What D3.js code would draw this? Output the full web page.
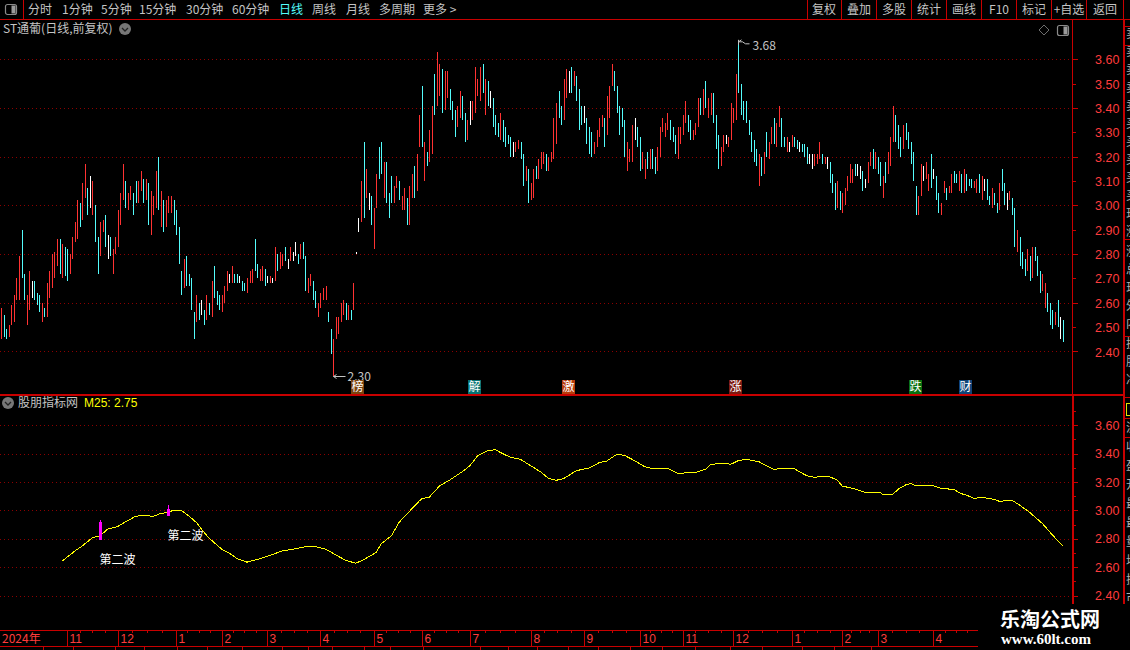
<!DOCTYPE html>
<html>
<head>
<meta charset="utf-8">
<script src="https://cdn.jsdelivr.net/npm/d3@7"></script>
<style>
  html, body { margin: 0; padding: 0; background: #000; overflow: hidden; }
  svg { display: block; font-family: "Noto Sans CJK SC", sans-serif; }
</style>
</head>
<body>
<svg id="chart" width="1130" height="650"></svg>
<script>
// daily bars. kinds: r = up, c = down, w = flat
const highs = [
  2.58,2.55,2.49,2.51,2.59,2.63,2.70,2.79,2.90,2.72,2.63,2.73,2.69,2.69,2.64,2.63,2.60,2.58,2.68,2.73,
  2.80,2.81,2.86,2.86,2.84,2.83,2.82,2.80,2.87,2.93,3.02,3.01,3.09,3.17,3.07,3.12,3.10,3.00,2.87,2.93,
  2.94,2.96,2.88,2.87,2.82,2.87,2.98,3.05,3.17,3.10,3.05,3.08,3.05,3.10,3.10,3.14,3.11,3.11,3.09,3.06,
  3.04,3.14,3.20,3.06,3.02,3.02,3.04,3.04,3.02,2.98,2.91,2.73,2.78,2.79,2.72,2.70,2.56,2.63,2.60,2.61,
  2.57,2.63,2.60,2.69,2.75,2.65,2.63,2.63,2.67,2.73,2.72,2.75,2.72,2.72,2.71,2.69,2.68,2.70,2.73,2.74,
  2.86,2.76,2.74,2.75,2.74,2.71,2.71,2.70,2.83,2.80,2.81,2.80,2.83,2.78,2.83,2.81,2.85,2.80,2.84,2.85,
  2.79,2.70,2.72,2.69,2.65,2.60,2.64,2.66,2.67,2.56,2.49,2.45,2.54,2.54,2.60,2.61,2.60,2.59,2.57,2.68,
  2.81,2.95,3.10,3.26,3.15,3.05,3.04,2.99,3.13,3.24,3.26,3.18,3.18,3.05,3.12,3.08,3.12,3.10,3.04,3.07,
  3.03,3.08,3.13,3.16,3.21,3.37,3.49,3.26,3.22,3.31,3.41,3.54,3.63,3.58,3.56,3.55,3.55,3.48,3.43,3.39,
  3.41,3.47,3.45,3.38,3.35,3.43,3.43,3.57,3.52,3.57,3.58,3.52,3.51,3.47,3.44,3.37,3.34,3.38,3.35,3.32,
  3.29,3.28,3.26,3.26,3.27,3.26,3.21,3.16,3.15,3.09,3.15,3.16,3.19,3.22,3.22,3.21,3.20,3.22,3.36,3.42,
  3.47,3.41,3.52,3.56,3.55,3.57,3.55,3.53,3.48,3.41,3.41,3.36,3.32,3.30,3.26,3.31,3.36,3.37,3.36,3.45,
  3.49,3.58,3.55,3.49,3.41,3.40,3.35,3.26,3.23,3.33,3.36,3.32,3.28,3.22,3.19,3.22,3.23,3.23,3.20,3.24,
  3.32,3.36,3.34,3.38,3.35,3.32,3.29,3.32,3.32,3.37,3.43,3.37,3.35,3.31,3.34,3.44,3.44,3.48,3.51,3.44,
  3.46,3.46,3.37,3.29,3.24,3.29,3.29,3.28,3.42,3.40,3.54,3.68,3.50,3.43,3.43,3.35,3.30,3.27,3.23,3.21,
  3.20,3.22,3.30,3.26,3.32,3.36,3.34,3.41,3.36,3.28,3.28,3.26,3.29,3.28,3.27,3.26,3.25,3.25,3.24,3.21,
  3.21,3.21,3.21,3.26,3.21,3.20,3.20,3.18,3.13,3.09,3.10,3.06,3.05,3.07,3.12,3.17,3.15,3.17,3.17,3.16,
  3.14,3.11,3.18,3.22,3.23,3.22,3.20,3.18,3.12,3.18,3.22,3.28,3.41,3.37,3.33,3.28,3.33,3.34,3.30,3.26,
  3.22,3.08,3.04,3.17,3.16,3.18,3.13,3.21,3.15,3.12,3.05,3.01,3.10,3.07,3.08,3.13,3.14,3.13,3.14,3.13,
  3.15,3.13,3.11,3.11,3.10,3.11,3.13,3.12,3.11,3.11,3.04,3.07,3.05,3.01,3.09,3.15,3.09,3.05,3.06,3.03,
  2.99,2.90,2.87,2.81,2.78,2.82,2.79,2.83,2.83,2.79,2.73,2.72,2.68,2.64,2.60,2.57,2.56,2.61,2.54,2.53
]
const lows = [
  2.45,2.46,2.45,2.46,2.51,2.52,2.61,2.61,2.70,2.61,2.51,2.57,2.62,2.61,2.59,2.56,2.52,2.54,2.54,2.62,
  2.66,2.70,2.75,2.72,2.70,2.71,2.69,2.72,2.78,2.85,2.86,2.91,2.94,3.03,2.96,2.99,2.96,2.85,2.72,2.79,
  2.89,2.83,2.78,2.79,2.72,2.80,2.83,2.92,3.02,2.99,2.98,3.02,2.96,3.01,3.01,3.06,3.01,3.02,2.92,2.88,
  2.96,2.99,2.98,2.91,2.89,2.91,2.97,2.97,2.92,2.88,2.76,2.63,2.66,2.67,2.67,2.57,2.45,2.52,2.53,2.55,
  2.51,2.53,2.55,2.54,2.62,2.59,2.57,2.56,2.60,2.65,2.68,2.68,2.68,2.68,2.68,2.65,2.65,2.64,2.68,2.68,
  2.73,2.70,2.69,2.69,2.67,2.68,2.68,2.68,2.69,2.73,2.74,2.75,2.77,2.74,2.77,2.77,2.79,2.76,2.78,2.78,
  2.65,2.64,2.67,2.61,2.58,2.54,2.58,2.61,2.61,2.52,2.39,2.30,2.45,2.47,2.52,2.55,2.53,2.53,2.53,2.57,
  2.81,2.89,2.93,2.95,3.03,2.98,2.92,2.82,2.99,3.11,3.13,3.03,3.01,2.95,3.01,3.01,3.07,3.02,2.98,2.98,
  2.92,2.92,3.03,3.03,3.06,3.24,3.24,3.10,3.16,3.18,3.21,3.37,3.41,3.45,3.38,3.39,3.44,3.39,3.35,3.28,
  3.32,3.36,3.35,3.26,3.27,3.33,3.35,3.38,3.45,3.43,3.46,3.37,3.41,3.40,3.32,3.29,3.28,3.27,3.26,3.24,
  3.25,3.20,3.20,3.22,3.23,3.19,3.08,3.10,3.01,3.02,3.03,3.11,3.11,3.15,3.17,3.14,3.14,3.18,3.19,3.25,
  3.36,3.33,3.35,3.44,3.46,3.46,3.49,3.43,3.31,3.33,3.34,3.25,3.21,3.20,3.21,3.24,3.28,3.32,3.24,3.29,
  3.36,3.49,3.47,3.38,3.29,3.32,3.20,3.14,3.18,3.18,3.27,3.24,3.14,3.15,3.11,3.15,3.15,3.15,3.13,3.14,
  3.20,3.30,3.28,3.31,3.27,3.26,3.21,3.19,3.25,3.29,3.34,3.30,3.27,3.27,3.29,3.32,3.37,3.37,3.40,3.36,
  3.37,3.34,3.23,3.15,3.16,3.22,3.25,3.24,3.27,3.34,3.35,3.46,3.37,3.35,3.34,3.29,3.22,3.18,3.16,3.08,
  3.12,3.13,3.20,3.19,3.25,3.25,3.24,3.32,3.24,3.24,3.22,3.22,3.24,3.24,3.23,3.22,3.22,3.20,3.17,3.17,
  3.15,3.16,3.17,3.19,3.17,3.17,3.15,3.09,3.05,2.98,2.99,2.98,2.97,3.00,3.06,3.09,3.09,3.12,3.12,3.11,
  3.06,3.07,3.09,3.16,3.15,3.15,3.13,3.08,3.03,3.09,3.13,3.16,3.26,3.26,3.23,3.20,3.23,3.27,3.23,3.17,
  3.10,2.96,2.96,3.04,3.10,3.11,3.06,3.07,3.11,3.02,2.97,2.96,3.05,3.02,3.05,3.05,3.09,3.09,3.06,3.05,
  3.05,3.06,3.08,3.07,3.07,3.05,3.05,3.02,3.06,3.02,3.00,2.99,3.00,2.97,2.98,3.06,3.00,2.98,3.02,2.96,
  2.83,2.81,2.75,2.74,2.71,2.73,2.69,2.70,2.77,2.71,2.64,2.65,2.58,2.56,2.51,2.49,2.51,2.50,2.45,2.44
]
const kinds = [
  'rccrrrrrccrrwcccrcrr',
  'rrrcrccrrrrcrrcwrccr',
  'rcwcrrrrrcrrccrrcrcr',
  'rrcrcrrrccccrccccrcw',
  'crcrcccrrrwrccwccrrr',
  'ccrrcwrwrcrrcwrwwcrc',
  'crrccrrrrccrrrrrcrcr',
  'wwrcrwcrrccrcccrrcrr',
  'crrcrrcrcrrcrrcrrccc',
  'rrccrwrrrrcrcwcccrcc',
  'ccwrrccrcrrcrrrcrrrr',
  'ccrrwcrcccwcccrrrrcr',
  'rrcccccrrrwccrrcrccr',
  'rrrrcccrrrrccrrrcrcr',
  'rcccrrwrrrrccccccccr',
  'crcrrcrrccrwrccwcccw',
  'wrrrcrwcccrcrrrrrcww',
  'cwrrcrccrcrrrcccrccc',
  'ccrrwrrcwccrrcrrccrc',
  'rcccrrcrwccrccrccwrc',
  'crcccrcrcccrrcccrcwc'
].join('').split('')

// M25 line, sampled along the curve: bar index and value
const m25Index = [24,29,32,36,39,42,46,50,53,56,60,63,65,68,71,74,77,79,82,87,90,93,97,102,107,111,117,121,124,128,
  132,136,140,143,148,150,154,157,161,165,166,169,173,177,182,185,188,192,195,197,201,205,209,213,216,219,222,227,232,236,
  239,243,246,250,254,257,263,267,274,278,280,286,288,291,294,299,302,305,307,313,315,318,321,324,327,330,332,337,341,347,
  348,352,354,357,359,361,368,371,376,379,381,384,387,392,394,399,402,406,411,415,419]
const m25Values = [2.642,2.713,2.75,2.807,2.821,2.868,2.887,2.929,2.958,2.965,2.958,2.979,2.984,3.0,3.0,2.962,2.915,2.868,2.805,2.727,2.699,2.661,2.635,2.659,2.689,2.715,2.732,2.748,2.744,2.727,
  2.687,2.647,2.628,2.652,2.704,2.765,2.821,2.915,2.991,3.066,3.082,3.094,3.172,3.214,3.273,3.315,3.384,3.421,3.428,3.409,3.374,3.36,3.315,3.271,3.226,3.212,3.224,3.28,3.299,3.336,
  3.348,3.395,3.388,3.351,3.308,3.296,3.296,3.261,3.268,3.289,3.325,3.332,3.325,3.351,3.36,3.344,3.315,3.289,3.294,3.296,3.273,3.245,3.233,3.24,3.238,3.214,3.172,3.151,3.127,3.127,
  3.113,3.113,3.148,3.179,3.19,3.174,3.174,3.155,3.148,3.118,3.108,3.085,3.092,3.078,3.064,3.071,3.038,2.986,2.908,2.826,2.751]

// signal sticks on the indicator panel
const signalIndex = [39, 66]
const signalHigh = [2.934, 3.04]
const signalTop = [2.92, 3.012]
const signalBottom = [2.793, 2.962]
const signalText = ['第二波', '第二波']
const signalTextValue = [2.653, 2.822]

// event tags
const tagIndex = [141, 187, 224, 290, 361, 381]
const tagText = ['榜', '解', '激', '涨', '跌', '财']
const tagColors = ['#7c4410', '#067373', '#b83c0c', '#7c1a12', '#0a7010', '#0f4478']

// axis ticks
const priceLabels = [3.6,3.5,3.4,3.3,3.2,3.1,3.0,2.9,2.8,2.7,2.6,2.5,2.4]
const priceGrid = [3.6,3.4,3.2,3.0,2.8,2.6,2.4]
const indLabels = [3.6,3.4,3.2,3.0,2.8,2.6,2.4]
const indMinor = [3.7,3.5,3.3,3.1,2.9,2.7,2.5]
const monthIndex = [26,46,69,87,105,126,147,166,185,209,230,252,269,289,312,332,346,368]
const monthLabels = ['11','12','1','2','3','4','5','6','7','8','9','10','11','12','1','2','3','4']

// toolbars
const leftTabs = ['分时','1分钟','5分钟','15分钟','30分钟','60分钟','日线','周线','月线','多周期','更多 >']
const leftTabX = [28,62,101,139,186,232,279,312,346,379,423]
const rightTabs = ['复权','叠加','多股','统计','画线','F10','标记','+自选','返回']
const rightTabX = [824,859,894,929,964,999,1034,1069,1105]
const rightSep = [807.5,841.5,876.5,911.5,946.5,981.5,1016.5,1051.5,1086.5,1123.5]
const bottomSep = [43,73,115,144,177,207,242,282,308,332,364,390,423,480,508,537,568,598,630,662,695,730,762,802,834,871]
const sideRows = ['卖五','卖四','卖三','卖二','卖一','买一','买二','买三','买四','买五','现价','涨跌','涨幅','总量','现量','外盘','内盘','换手','股本','净资','流通','收益','盈率','开盘','最高','最低','量比','均价','振幅','市值']
const sideRowY = [34,52,70,88,106,124,142,160,178,196,214,232,252,270,288,306,324,344,362,380,428,447,466,485,504,523,542,561,580,598]

const RED = '#c80000'
const TXT = '#c4c4c4'
const barColor = { r: '#ff3232', c: '#54fcfc', w: '#ffffff' }

const svg = d3.select('#chart')

const x = d3.scaleLinear().domain([0, highs.length - 1]).range([1.3, 1062.6])
const px = (i) => Math.round(x(i)) + 0.5
const y = d3.scaleLinear().domain([2.4, 3.6]).range([351.4, 59.3])
const y2 = d3.scaleLinear().domain([2.4, 3.6]).range([595.5, 425.3])

function line(g, x1, y1, x2, y2, color, w) {
  return g.append('line').attr('x1', x1).attr('y1', y1).attr('x2', x2).attr('y2', y2)
    .attr('stroke', color || RED).attr('stroke-width', w || 1).attr('shape-rendering', 'crispEdges')
}

function label(g, tx, ty, s, color, anchor, size) {
  return g.append('text').attr('x', tx).attr('y', ty).attr('dy', '.36em')
    .attr('text-anchor', anchor || 'start').attr('fill', color || TXT)
    .attr('font-size', size || 12).text(s)
}

// dotted grid
function grid(scale, values) {
  svg.append('g').selectAll('line').data(values).enter().append('line')
    .attr('x1', 0).attr('x2', 1072)
    .attr('y1', (d) => Math.round(scale(d)) + 0.5).attr('y2', (d) => Math.round(scale(d)) + 0.5)
    .attr('stroke', '#8c0000').attr('stroke-dasharray', '1 3').attr('shape-rendering', 'crispEdges')
}
grid(y, priceGrid)
grid(y2, indLabels)

// bars
svg.append('g').selectAll('line').data(highs).enter().append('line')
  .attr('x1', (d, i) => px(i)).attr('x2', (d, i) => px(i))
  .attr('y1', (d) => Math.round(y(d)))
  .attr('y2', (d, i) => Math.max(Math.round(y(lows[i])), Math.round(y(d)) + 2))
  .attr('stroke', (d, i) => barColor[kinds[i]])
  .attr('shape-rendering', 'crispEdges')

// highest / lowest markers
const hiIdx = d3.maxIndex(highs)
const loIdx = d3.minIndex(lows)
const marks = svg.append('g')
marks.append('path').attr('fill', 'none').attr('stroke', TXT)
  .attr('d', `M${px(hiIdx)},${y(highs[hiIdx]) + 5} L${px(hiIdx)},${y(highs[hiIdx])} M${px(hiIdx)},${y(highs[hiIdx]) + 2} l3,-2 M${px(hiIdx)},${y(highs[hiIdx]) + 2} l4,0 l3,2 l4,0`)
label(marks, px(hiIdx) + 14, y(highs[hiIdx]) + 6, d3.format('.2f')(highs[hiIdx]), TXT, 'start', 12)
marks.append('path').attr('fill', 'none').attr('stroke', TXT)
  .attr('d', `M${px(loIdx)},${Math.round(y(lows[loIdx])) + 0.5} h12 M${px(loIdx)},${Math.round(y(lows[loIdx])) + 0.5} l3,-2 M${px(loIdx)},${Math.round(y(lows[loIdx])) + 0.5} l3,2`)
label(marks, px(loIdx) + 14, y(lows[loIdx]) + 1, d3.format('.2f')(lows[loIdx]), TXT, 'start', 12)

// event tags
const tags = svg.append('g').selectAll('g').data(tagIndex).enter().append('g')
  .attr('transform', (d) => `translate(${Math.round(x(d)) - 7},380)`)
tags.append('rect').attr('width', 13).attr('height', 14).attr('fill', (d, i) => tagColors[i])
tags.append('text').attr('x', 6.5).attr('y', 7).attr('dy', '.36em').attr('text-anchor', 'middle')
  .attr('fill', '#fff').attr('font-size', 12).text((d, i) => tagText[i])

// M25
svg.append('path')
  .datum(m25Index)
  .attr('fill', 'none').attr('stroke', '#ffff00').attr('stroke-width', 1)
  .attr('shape-rendering', 'crispEdges')
  .attr('d', d3.line().x((d) => x(d)).y((d, i) => y2(m25Values[i])))

// signals
const sig = svg.append('g').selectAll('g').data(signalIndex).enter().append('g')
sig.append('line').attr('x1', (d) => px(d)).attr('x2', (d) => px(d))
  .attr('y1', (d, i) => y2(signalHigh[i])).attr('y2', (d, i) => y2(signalTop[i]))
  .attr('stroke', '#ff00ff').attr('shape-rendering', 'crispEdges')
sig.append('rect').attr('x', (d) => px(d) - 1.5).attr('width', 3)
  .attr('y', (d, i) => y2(signalTop[i]))
  .attr('height', (d, i) => y2(signalBottom[i]) - y2(signalTop[i]))
  .attr('fill', '#ff00ff').attr('shape-rendering', 'crispEdges')
sig.append('text').attr('x', (d) => px(d) - 1).attr('y', (d, i) => y2(signalTextValue[i])).attr('dy', '.36em')
  .attr('fill', '#fff').attr('font-size', 12).text((d, i) => signalText[i])

// price axes
function priceAxis(scale, values, size) {
  const g = svg.append('g').attr('transform', 'translate(1073,0)')
    .call(d3.axisRight(scale).tickValues(values).tickSize(size).tickPadding(17 - size).tickFormat(d3.format('.2f')))
  g.select('.domain').remove()
  g.selectAll('line').attr('stroke', RED).attr('shape-rendering', 'crispEdges')
  g.selectAll('text').attr('fill', '#ff3c3c').attr('font-size', 12.5)
    .attr('font-family', '"Liberation Sans", sans-serif').attr('x', 22)
  return g
}
const mainAxis = priceAxis(y, priceLabels, 3)
mainAxis.selectAll('line').attr('x2', (d) => (priceGrid.includes(d) ? 5 : 3))
mainAxis.selectAll('text').attr('y', 0.6)
priceAxis(y2, indLabels, 5)
svg.append('g').attr('transform', 'translate(1073,0)').selectAll('line').data(indMinor).enter().append('line')
  .attr('x1', 0).attr('x2', 3).attr('y1', (d) => Math.round(y2(d)) + 0.5).attr('y2', (d) => Math.round(y2(d)) + 0.5)
  .attr('stroke', RED).attr('shape-rendering', 'crispEdges')

// time axis
const timeTop = 630.5
const timeBottom = 646.5
const time = svg.append('g')
line(time, 0, timeTop, 978, timeTop)
line(time, 0, timeBottom, 978, timeBottom)
monthIndex.forEach((m, k) => {
  const tx = Math.round(x(m)) + 0.5
  line(time, tx, timeTop, tx, timeBottom)
  label(time, tx + 2, 638.5, monthLabels[k], '#ff3c3c', 'start', 12).attr('font-family', '"Liberation Sans", sans-serif')
  const next = k < monthIndex.length - 1 ? monthIndex[k + 1] : m + 17.5
  d3.range(1, 4).forEach((q) => {
    const qx = Math.round(x(m + ((next - m) * q) / 4)) + 0.5
    line(time, qx, timeTop, qx, timeTop + 2)
  })
})
label(time, 2, 638.5, '2024年', '#ff3c3c', 'start', 12)
svg.append('g').selectAll('line').data(bottomSep).enter().append('line')
  .attr('x1', (d) => d + 0.5).attr('x2', (d) => d + 0.5).attr('y1', 646).attr('y2', 650)
  .attr('stroke', RED).attr('shape-rendering', 'crispEdges')

// frame
const frame = svg.append('g')
line(frame, 0, 19.5, 1130, 19.5)
line(frame, 23.5, 0, 23.5, 19)
rightSep.forEach((s) => line(frame, s, 0, s, 19))
line(frame, 0, 394.5, 1123, 394.5, RED, 2)
line(frame, 1072.5, 19, 1072.5, 394)
line(frame, 1073, 394, 1073, 604, RED, 2)
line(frame, 1123.5, 19, 1123.5, 604, RED, 2)
;[26, 45, 239, 336, 397, 418, 437].forEach((h) => line(frame, 1124, h + 0.5, 1130, h + 0.5))
frame.append('rect').attr('x', 1126.5).attr('y', 403.5).attr('width', 6).attr('height', 12)
  .attr('fill', 'none').attr('stroke', '#e0e000')

// side column, clipped by the window edge
svg.append('g').selectAll('text').data(sideRows).enter().append('text')
  .attr('x', 1126).attr('y', (d, i) => sideRowY[i]).attr('dy', '.36em')
  .attr('fill', '#b0b0b0').attr('font-size', 12).text((d) => d)

// toolbars
const bar = svg.append('g')
leftTabs.forEach((t, i) => label(bar, leftTabX[i], 9.5, t, t === '日线' ? '#54fcfc' : TXT))
rightTabs.forEach((t, i) => label(bar, rightTabX[i], 9.5, t, TXT, 'middle'))

function panelIcon(ix, iy) {
  bar.append('rect').attr('x', ix).attr('y', iy).attr('width', 11).attr('height', 10).attr('rx', 2)
    .attr('fill', 'none').attr('stroke', '#8a8a8a').attr('stroke-width', 1.2)
  bar.append('rect').attr('x', ix + 6).attr('y', iy + 1).attr('width', 4).attr('height', 8).attr('fill', '#9a9a9a')
}
panelIcon(5.5, 4.5)
panelIcon(1057.5, 25.5)
bar.append('path').attr('d', 'M1044,25 L1049,30 L1044,35 L1039,30 Z').attr('fill', 'none').attr('stroke', '#6e6e6e')

function chevron(cx, cy) {
  bar.append('circle').attr('cx', cx).attr('cy', cy).attr('r', 6).attr('fill', '#777')
  bar.append('path').attr('d', `M${cx - 3},${cy - 1} L${cx},${cy + 2} L${cx + 3},${cy - 1}`)
    .attr('fill', 'none').attr('stroke', '#222').attr('stroke-width', 1.3)
}
label(bar, 3, 29, 'ST通葡(日线,前复权)', TXT)
chevron(125, 29)
chevron(8, 403)
label(bar, 18, 403, '股朋指标网', TXT)
label(bar, 84, 403, 'M25: ' + d3.format('.2f')(m25Values[m25Values.length - 1]), '#ffff00', 'start', 12)
  .attr('font-family', '"Liberation Sans", sans-serif')

// watermark
const wm = svg.append('g')
wm.append('rect').attr('x', 978).attr('y', 604).attr('width', 152).attr('height', 46).attr('fill', '#000')
label(wm, 1050, 620, '乐淘公式网', '#fff', 'middle', 20).attr('font-weight', 700)
label(wm, 1046, 639, 'www.60lt.com', '#fff', 'middle', 15).attr('font-weight', 700)
  .attr('font-family', '"Liberation Serif", serif')
</script>
</body>
</html>
